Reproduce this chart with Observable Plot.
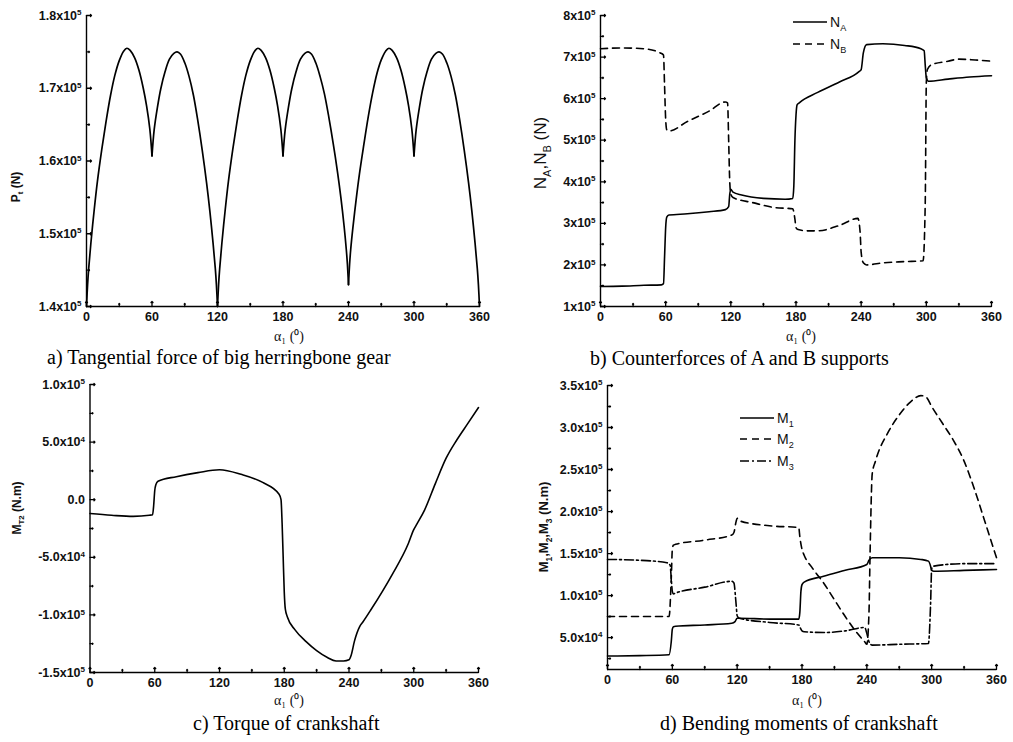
<!DOCTYPE html>
<html><head><meta charset="utf-8">
<script src="https://cdn.jsdelivr.net/npm/d3@7"></script>
<script src="https://cdn.jsdelivr.net/npm/@observablehq/plot@0.6"></script>
<style>
body{margin:0;background:#fff}
#wrap{position:relative;width:1013px;height:742px;overflow:hidden;background:#fff}
</style></head><body><div id="wrap"></div>
<script>
// ---------- shared x axis ----------
const xMajor = [0, 60, 120, 180, 240, 300, 360];
const xMinor = [30, 90, 150, 210, 270, 330];
const xTitleText = "α₁ (⁰)";

// ---------- panel a: tangential force (units 1e5 N) ----------
const aArch1X = [0, 1, 2, 4, 7, 10, 14, 18, 22, 26, 30, 34, 37, 40, 44, 48, 52, 55, 58, 60];
const aArch1Y = [1.400, 1.430, 1.452, 1.487, 1.532, 1.572, 1.616, 1.655, 1.690, 1.718, 1.738, 1.751, 1.755, 1.752, 1.742, 1.725, 1.700, 1.676, 1.644, 1.607];
const aArch2X = [60, 62, 65, 68, 72, 76, 80, 83, 86, 90, 94, 98, 102, 106, 110, 113, 116, 118, 119, 120];
const aArch2Y = [1.607, 1.643, 1.674, 1.699, 1.723, 1.740, 1.748, 1.750, 1.747, 1.735, 1.716, 1.690, 1.655, 1.615, 1.570, 1.531, 1.486, 1.452, 1.430, 1.400];
const aArch3X = [120, 121, 122, 124, 127, 130, 134, 138, 142, 146, 150, 154, 157, 160, 164, 168, 172, 175, 178, 180];
const aArch3Y = [1.400, 1.430, 1.452, 1.487, 1.532, 1.572, 1.616, 1.655, 1.690, 1.718, 1.738, 1.751, 1.755, 1.752, 1.742, 1.725, 1.700, 1.676, 1.644, 1.607];
const aArch4X = [180, 182, 185, 188, 192, 196, 200, 203, 206, 210, 214, 218, 222, 226, 230, 233, 236, 238, 239, 240];
const aArch4Y = [1.607, 1.643, 1.674, 1.699, 1.723, 1.740, 1.748, 1.750, 1.747, 1.735, 1.716, 1.692, 1.660, 1.624, 1.584, 1.550, 1.510, 1.478, 1.458, 1.430];
const aArch5X = [240, 241, 242, 244, 247, 250, 254, 258, 262, 266, 270, 274, 277, 280, 284, 288, 292, 295, 298, 300];
const aArch5Y = [1.430, 1.458, 1.478, 1.508, 1.547, 1.582, 1.622, 1.660, 1.693, 1.720, 1.739, 1.751, 1.755, 1.752, 1.742, 1.725, 1.700, 1.676, 1.644, 1.607];
const aArch6X = [300, 302, 305, 308, 312, 316, 320, 323, 326, 330, 334, 338, 342, 346, 350, 353, 356, 358, 359, 360];
const aArch6Y = [1.607, 1.643, 1.674, 1.699, 1.723, 1.740, 1.748, 1.750, 1.747, 1.735, 1.716, 1.690, 1.655, 1.615, 1.570, 1.531, 1.486, 1.452, 1.430, 1.400];
const aYTicks = [1.4e5, 1.5e5, 1.6e5, 1.7e5, 1.8e5];
const aYLabels = ["1.4x10⁵", "1.5x10⁵", "1.6x10⁵", "1.7x10⁵", "1.8x10⁵"];
const aYMinor = [1.45e5, 1.55e5, 1.65e5, 1.75e5];

// ---------- panel b: support counterforces (units 1e5 N) ----------
const bNAX = [0, 20, 40, 56, 58, 59, 60, 61, 63, 80, 100, 115, 118, 119, 120, 122, 130, 150, 170, 177, 178, 179, 180, 181, 183, 200, 220, 238, 240, 242, 245, 260, 280, 295, 298, 299, 300, 302, 320, 340, 360];
const bNAY = [1.48, 1.49, 1.51, 1.52, 1.55, 2.2, 2.9, 3.15, 3.2, 3.23, 3.28, 3.33, 3.40, 3.7, 3.82, 3.75, 3.68, 3.60, 3.58, 3.60, 3.9, 5.0, 5.6, 5.85, 5.9, 6.15, 6.4, 6.65, 6.7, 7.1, 7.3, 7.32, 7.28, 7.2, 7.15, 6.8, 6.5, 6.42, 6.47, 6.52, 6.55];
const bNBX = [0, 20, 40, 55, 58, 59, 60, 61, 63, 80, 100, 115, 117, 118, 119, 120, 122, 140, 160, 177, 179, 180, 182, 190, 200, 220, 237, 239, 240, 242, 245, 260, 280, 297, 299, 300, 301, 305, 320, 330, 345, 360];
const bNBY = [7.2, 7.22, 7.2, 7.1, 7.05, 6.3, 5.5, 5.25, 5.22, 5.45, 5.7, 5.92, 5.9, 5.0, 4.0, 3.7, 3.62, 3.5, 3.38, 3.35, 3.1, 2.9, 2.85, 2.82, 2.82, 2.95, 3.12, 2.8, 2.3, 2.05, 2.0, 2.05, 2.08, 2.1, 3.5, 6.4, 6.7, 6.82, 6.9, 6.95, 6.93, 6.9];
const bYTicks = [1e5, 2e5, 3e5, 4e5, 5e5, 6e5, 7e5, 8e5];
const bYLabels = ["1x10⁵", "2x10⁵", "3x10⁵", "4x10⁵", "5x10⁵", "6x10⁵", "7x10⁵", "8x10⁵"];
const bYMinor = [1.5e5, 2.5e5, 3.5e5, 4.5e5, 5.5e5, 6.5e5, 7.5e5];

// ---------- panel c: torque of crankshaft (units 1e4 N.m) ----------
const cX = [0, 20, 40, 55, 58, 59, 60, 61, 63, 80, 100, 120, 140, 160, 175, 177, 178, 179, 180, 181, 183, 190, 200, 210, 220, 228, 235, 240, 242, 245, 250, 253, 260, 280, 295, 300, 303, 310, 320, 330, 340, 350, 360];
const cY = [-1.2, -1.35, -1.45, -1.35, -1.3, -0.5, 0.8, 1.3, 1.6, 2.0, 2.35, 2.6, 2.2, 1.5, 0.5, 0, -2, -5, -8, -9.5, -10.2, -11.3, -12.3, -13.1, -13.7, -14.0, -14.0, -13.9, -13.5, -12.3, -11.0, -10.6, -9.6, -6.5, -3.8, -2.6, -2.1, -0.9, 1.4, 3.6, 5.2, 6.6, 8.0];
const cYTicks = [-1.5e5, -1e5, -5e4, 0, 5e4, 1e5];
const cYLabels = ["-1.5x10⁵", "-1.0x10⁵", "-5.0x10⁴", "0.0", "5.0x10⁴", "1.0x10⁵"];
const cYMinor = [-1.25e5, -7.5e4, -2.5e4, 2.5e4, 7.5e4];

// ---------- panel d: bending moments (units 1e4 N.m) ----------
const dM1X = [0, 30, 57, 59, 60, 61, 63, 90, 115, 118, 120, 122, 150, 177, 178, 179, 180, 182, 200, 220, 240, 242, 245, 270, 290, 297, 299, 300, 302, 330, 360];
const dM1Y = [2.8, 2.85, 2.95, 4.5, 6.0, 6.3, 6.35, 6.5, 6.7, 6.9, 7.3, 7.3, 7.2, 7.2, 8.0, 10.5, 11.3, 11.6, 12.3, 13.0, 13.7, 14.2, 14.5, 14.5, 14.3, 14.1, 13.5, 13.0, 12.9, 13.0, 13.1];
const dM2X = [0, 30, 57, 59, 60, 61, 63, 90, 115, 117, 119, 120, 122, 150, 177, 178, 180, 182, 190, 200, 210, 220, 230, 238, 240, 242, 243, 245, 248, 260, 270, 280, 290, 295, 300, 310, 320, 330, 340, 350, 360];
const dM2Y = [7.5, 7.5, 7.5, 12, 15.5, 16.0, 16.1, 16.6, 17.2, 17.5, 18.8, 19.2, 18.9, 18.3, 18.1, 17, 15.5, 14.8, 13.2, 11.5, 9.5, 7.5, 5.7, 4.5, 4.2, 8, 15, 24.5, 26, 29.5, 31.5, 33, 33.8, 33.6, 32.5, 30.5, 28.5, 26, 22.5, 18.5, 14.5];
const dM3X = [0, 30, 55, 58, 59, 60, 61, 63, 90, 115, 117, 119, 120, 122, 150, 177, 179, 180, 182, 200, 220, 238, 240, 242, 245, 270, 297, 299, 300, 302, 330, 360];
const dM3Y = [14.3, 14.2, 13.9, 13.6, 12, 10.5, 10.2, 10.3, 11, 11.7, 11.5, 9, 7.6, 7.3, 6.8, 6.5, 6.0, 5.8, 5.7, 5.6, 5.8, 6.2, 5.5, 4.5, 4.1, 4.2, 4.3, 9, 13.2, 13.5, 13.8, 13.8];
const dYTicks = [5e4, 1e5, 1.5e5, 2e5, 2.5e5, 3e5, 3.5e5];
const dYLabels = ["5.0x10⁴", "1.0x10⁵", "1.5x10⁵", "2.0x10⁵", "2.5x10⁵", "3.0x10⁵", "3.5x10⁵"];
const dYMinor = [2.5e4, 7.5e4, 1.25e5, 1.75e5, 2.25e5, 2.75e5, 3.25e5];

// ---------- helpers ----------
const zipSeries = (xs, ys, k, name) => xs.map((x, i) => ({x, y: ys[i] * k, s: name}));
const SANS = "Arial, 'Liberation Sans', Helvetica, sans-serif";
const SERIF = "'Liberation Serif', 'Times New Roman', serif";
const SUP = {"⁴": "4", "⁵": "5"};

function panel(o) {
  const labelMap = new Map(o.yTicks.map((v, i) => [v, o.yLabels[i]]));
  const y0 = o.yDomain[0];
  const marks = [
    Plot.ruleX([0], {stroke: "#000", strokeWidth: 1.4}),
    Plot.ruleY([y0], {stroke: "#000", strokeWidth: 1.4}),
    Plot.vector(xMajor, {x: d => d, y: y0, length: 5, rotate: 0, anchor: "start", stroke: "#000", strokeWidth: 1.3}),
    Plot.vector(xMinor, {x: d => d, y: y0, length: 3, rotate: 0, anchor: "start", stroke: "#000", strokeWidth: 1.3}),
    Plot.vector(o.yTicks, {x: 0, y: d => d, length: 5, rotate: 90, anchor: "start", stroke: "#000", strokeWidth: 1.3}),
    Plot.vector(o.yMinor, {x: 0, y: d => d, length: 3, rotate: 90, anchor: "start", stroke: "#000", strokeWidth: 1.3}),
    Plot.axisX(xMajor, {tickSize: 0, tickPadding: 6, tickFormat: d => String(d), fontSize: 12.5, fontWeight: "bold", label: null, fill: "#111"}),
    Plot.axisY(o.yTicks, {tickSize: 0, tickPadding: 5, tickFormat: d => labelMap.get(d), fontSize: 12.5, fontWeight: "bold", label: null, fill: "#111"}),
    ...o.lines
  ];
  const svg = Plot.plot({
    width: o.width, height: o.height,
    marginLeft: o.mL, marginRight: o.mR, marginTop: o.mT, marginBottom: o.mB,
    x: {domain: [0, 360], label: null},
    y: {domain: o.yDomain, label: null},
    style: {position: "absolute", left: o.left + "px", top: o.top + "px", overflow: "visible", background: "transparent", fontFamily: SANS},
    marks
  });
  d3.select(svg).selectAll('g[aria-label$="tick label"] text').attr("font-weight", "bold");
  d3.select(svg).selectAll('g[aria-label="y-axis tick label"] text').each(function () {
    const s = this.textContent;
    const last = s.slice(-1);
    if (SUP[last]) {
      const sel = d3.select(this);
      sel.text(s.slice(0, -1));
      sel.append("tspan").attr("font-size", 8).attr("dy", "-0.55em").text(SUP[last]);
    }
  });
  document.getElementById("wrap").appendChild(svg);
}

// panel a
const aData = [
  ...zipSeries(aArch1X, aArch1Y, 1e5, 1), ...zipSeries(aArch2X, aArch2Y, 1e5, 2),
  ...zipSeries(aArch3X, aArch3Y, 1e5, 3), ...zipSeries(aArch4X, aArch4Y, 1e5, 4),
  ...zipSeries(aArch5X, aArch5Y, 1e5, 5), ...zipSeries(aArch6X, aArch6Y, 1e5, 6)
];
panel({left: 0, top: 0, width: 500, height: 345, mL: 86, mR: 21, mT: 15, mB: 39,
  yDomain: [1.4e5, 1.8e5], yTicks: aYTicks, yLabels: aYLabels, yMinor: aYMinor,
  lines: [Plot.line(aData, {x: "x", y: "y", z: "s", curve: "catmull-rom", stroke: "#000", strokeWidth: 1.7})]});

// panel b
panel({left: 500, top: 0, width: 513, height: 345, mL: 100, mR: 22, mT: 15, mB: 39,
  yDomain: [1e5, 8e5], yTicks: bYTicks, yLabels: bYLabels, yMinor: bYMinor,
  lines: [
    Plot.line(zipSeries(bNAX, bNAY, 1e5, "NA"), {x: "x", y: "y", curve: "monotone-x", stroke: "#000", strokeWidth: 1.6}),
    Plot.line(zipSeries(bNBX, bNBY, 1e5, "NB"), {x: "x", y: "y", curve: "monotone-x", stroke: "#000", strokeWidth: 1.6, strokeDasharray: "7,5"})
  ]});

// panel c
panel({left: 0, top: 370, width: 500, height: 335, mL: 89.5, mR: 22, mT: 14, mB: 33,
  yDomain: [-1.5e5, 1e5], yTicks: cYTicks, yLabels: cYLabels, yMinor: cYMinor,
  lines: [Plot.line(zipSeries(cX, cY, 1e4, "MT2"), {x: "x", y: "y", curve: "monotone-x", stroke: "#000", strokeWidth: 1.6})]});

// panel d
panel({left: 500, top: 370, width: 513, height: 335, mL: 107, mR: 17, mT: 15, mB: 36,
  yDomain: [1.2e4, 3.5e5], yTicks: dYTicks, yLabels: dYLabels, yMinor: dYMinor,
  lines: [
    Plot.line(zipSeries(dM1X, dM1Y, 1e4, "M1"), {x: "x", y: "y", curve: "monotone-x", stroke: "#000", strokeWidth: 1.6}),
    Plot.line(zipSeries(dM2X, dM2Y, 1e4, "M2"), {x: "x", y: "y", curve: "monotone-x", stroke: "#000", strokeWidth: 1.6, strokeDasharray: "7,5"}),
    Plot.line(zipSeries(dM3X, dM3Y, 1e4, "M3"), {x: "x", y: "y", curve: "monotone-x", stroke: "#000", strokeWidth: 1.6, strokeDasharray: "9,3,2,3"})
  ]});

// ---------- overlay texts: axis titles, legends, captions ----------
const ov = d3.select("#wrap").append("svg")
  .attr("width", 1013).attr("height", 742)
  .style("position", "absolute").style("left", 0).style("top", 0).style("pointer-events", "none");

function rich(x, y, parts, {size = 12, weight = "normal", family = SANS, anchor = "middle", rotate = 0} = {}) {
  const t = ov.append("text").attr("text-anchor", anchor).attr("font-family", family)
    .attr("font-size", size).attr("font-weight", weight).attr("fill", "#111")
    .attr("transform", `translate(${x},${y}) rotate(${rotate})`);
  parts.forEach(p => {
    const [s, kind] = Array.isArray(p) ? p : [p, "n"];
    const ts = t.append("tspan").text(s);
    if (kind === "sub") ts.attr("font-size", size * 0.65).attr("dy", size * 0.28);
    else if (kind === "nsub") ts.attr("dy", -size * 0.28);
  });
  return t;
}

// y-axis titles
rich(20, 187, ["P", ["t", "sub"], [" (N)", "nsub"]], {size: 12, weight: "bold", rotate: -90});
rich(546, 153, ["N", ["A", "sub"], [",N", "nsub"], ["B", "sub"], [" (N)", "nsub"]], {size: 17, rotate: -90});
rich(21, 508, ["M", ["T2", "sub"], [" (N.m)", "nsub"]], {size: 12, weight: "bold", rotate: -90});
rich(548, 527, ["M", ["1", "sub"], [",M", "nsub"], ["2", "sub"], [",M", "nsub"], ["3", "sub"], [" (N.m)", "nsub"]], {size: 13, weight: "bold", rotate: -90});

// x-axis titles (single text each)
function xTitle(cx, by) {
  ov.append("text").attr("text-anchor", "middle").attr("x", cx).attr("y", by)
    .attr("font-family", SERIF).attr("font-size", 14).attr("fill", "#111").text(xTitleText);
}
xTitle(289, 341);
xTitle(801, 341);
xTitle(289, 705);
xTitle(807, 705);

// legends
function legendRow(x, y, dash, parts) {
  ov.append("line").attr("x1", x).attr("x2", x + 34).attr("y1", y).attr("y2", y)
    .attr("stroke", "#000").attr("stroke-width", 1.6).attr("stroke-dasharray", dash);
  rich(x + 37, y + 5, parts, {size: 14, anchor: "start"});
}
legendRow(793, 22, null, ["N", ["A", "sub"]]);
legendRow(793, 44, "7,5", ["N", ["B", "sub"]]);
legendRow(740, 418, null, ["M", ["1", "sub"]]);
legendRow(740, 439, "7,5", ["M", ["2", "sub"]]);
legendRow(740, 461, "9,3,2,3", ["M", ["3", "sub"]]);

// captions
function caption(x, y, s) {
  ov.append("text").attr("x", x).attr("y", y).attr("font-family", SERIF).attr("font-size", 20).attr("fill", "#000").text(s);
}
caption(47, 364, "a) Tangential force of big herringbone gear");
caption(590, 365, "b) Counterforces of A and B supports");
caption(193, 730, "c) Torque of crankshaft");
caption(660, 730, "d) Bending moments of crankshaft");
</script></body></html>
